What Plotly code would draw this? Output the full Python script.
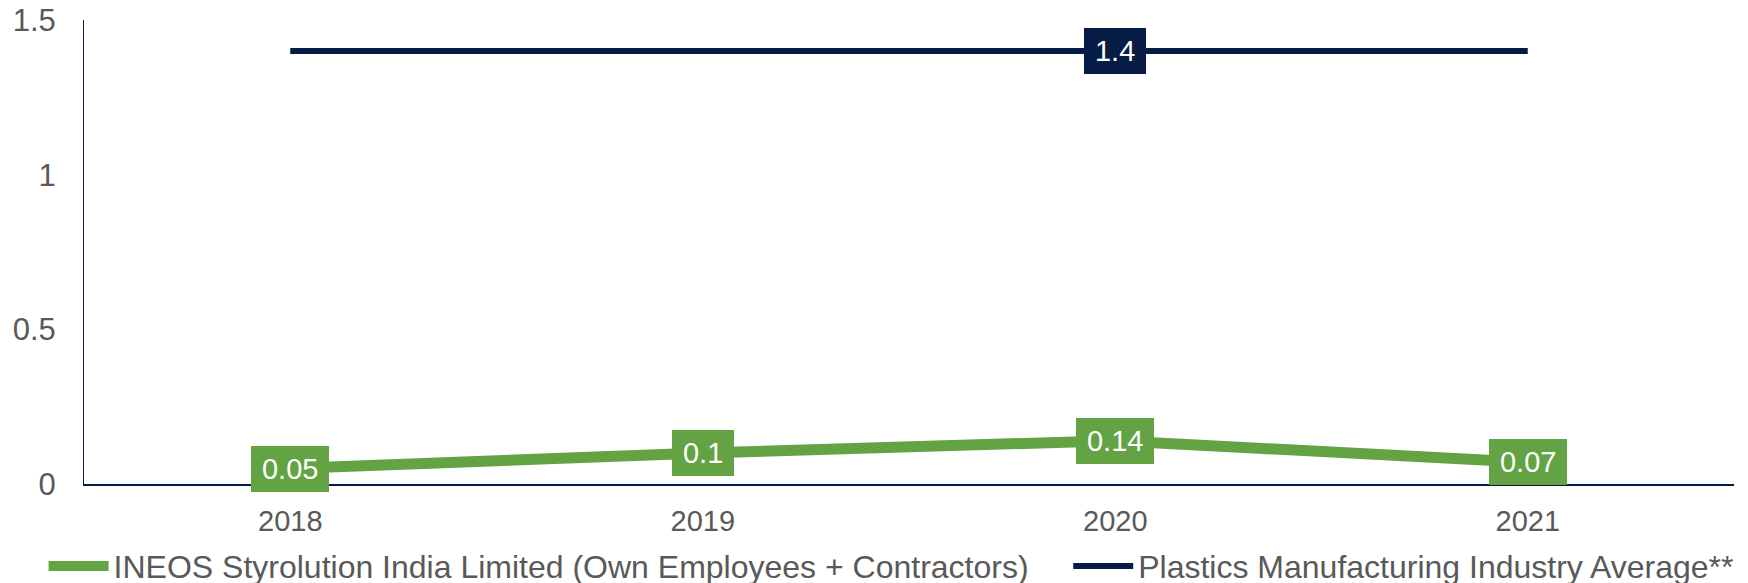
import plotly.graph_objects as go

years = ["2018", "2019", "2020", "2021"]
ineos = [0.05, 0.1, 0.14, 0.07]
industry = [1.4, 1.4, 1.4, 1.4]
industry_label_idx = [2]
y_ticks = [0, 0.5, 1, 1.5]
y_tick_text = ["0", "0.5", "1", "1.5"]

name_ineos = "INEOS Styrolution India Limited (Own Employees + Contractors)"
name_ind = "Plastics Manufacturing Industry Average**"

GREEN = "#63A344"
NAVY = "#061C45"
GRAY = "#595959"
FONT = "Liberation Sans, Arial, sans-serif"
LABEL_SIZE = 29


def est_width(s, size):
    w = 0.0
    for ch in s:
        w += 0.278 if ch == "." else 0.556
    return w * size


def label(i, v, color):
    t = f"{v:g}"
    return dict(x=i, y=v, xref="x", yref="y", text=t, showarrow=False,
                bgcolor=color, borderpad=7, borderwidth=0,
                width=est_width(t, LABEL_SIZE) + 8,
                font=dict(family=FONT, size=LABEL_SIZE, color="white"))


fig = go.Figure()
fig.add_trace(go.Scatter(x=years, y=ineos, mode="lines", name=name_ineos,
                         line=dict(color=GREEN, width=11), legend="legend"))
fig.add_trace(go.Scatter(x=years, y=industry, mode="lines", name=name_ind,
                         line=dict(color=NAVY, width=6), legend="legend2"))

annotations = [label(i, v, GREEN) for i, v in enumerate(ineos)]
annotations += [label(i, industry[i], NAVY) for i in industry_label_idx]

legend_common = dict(orientation="h", xanchor="left", y=-0.177, yanchor="middle",
                     font=dict(family=FONT, size=32, color=GRAY), itemwidth=60,
                     bgcolor="rgba(0,0,0,0)")

fig.update_layout(
    width=1740, height=575,
    margin=dict(l=76, r=14, t=12, b=99, autoexpand=False),
    plot_bgcolor="white", paper_bgcolor="white",
    font=dict(family=FONT, size=29, color=GRAY),
    showlegend=True,
    legend=dict(x=-0.0245, **legend_common),
    legend2=dict(x=0.5965, **legend_common),
    annotations=annotations,
)
fig.update_xaxes(type="category", range=[-0.5, 3.5], showline=True, linecolor=NAVY,
                 linewidth=1.5, showgrid=False, zeroline=False, ticks="", ticklabelstandoff=10,
                 tickfont=dict(family=FONT, size=29, color=GRAY))
fig.update_yaxes(range=[0, 1.5], tickvals=y_ticks, ticktext=y_tick_text, showline=True,
                 linecolor=NAVY, linewidth=1, showgrid=False, zeroline=False, ticks="",
                 ticklabelstandoff=21, ticklabeloverflow="allow",
                 tickfont=dict(family=FONT, size=31, color=GRAY))

fig.write_html("out.html")
